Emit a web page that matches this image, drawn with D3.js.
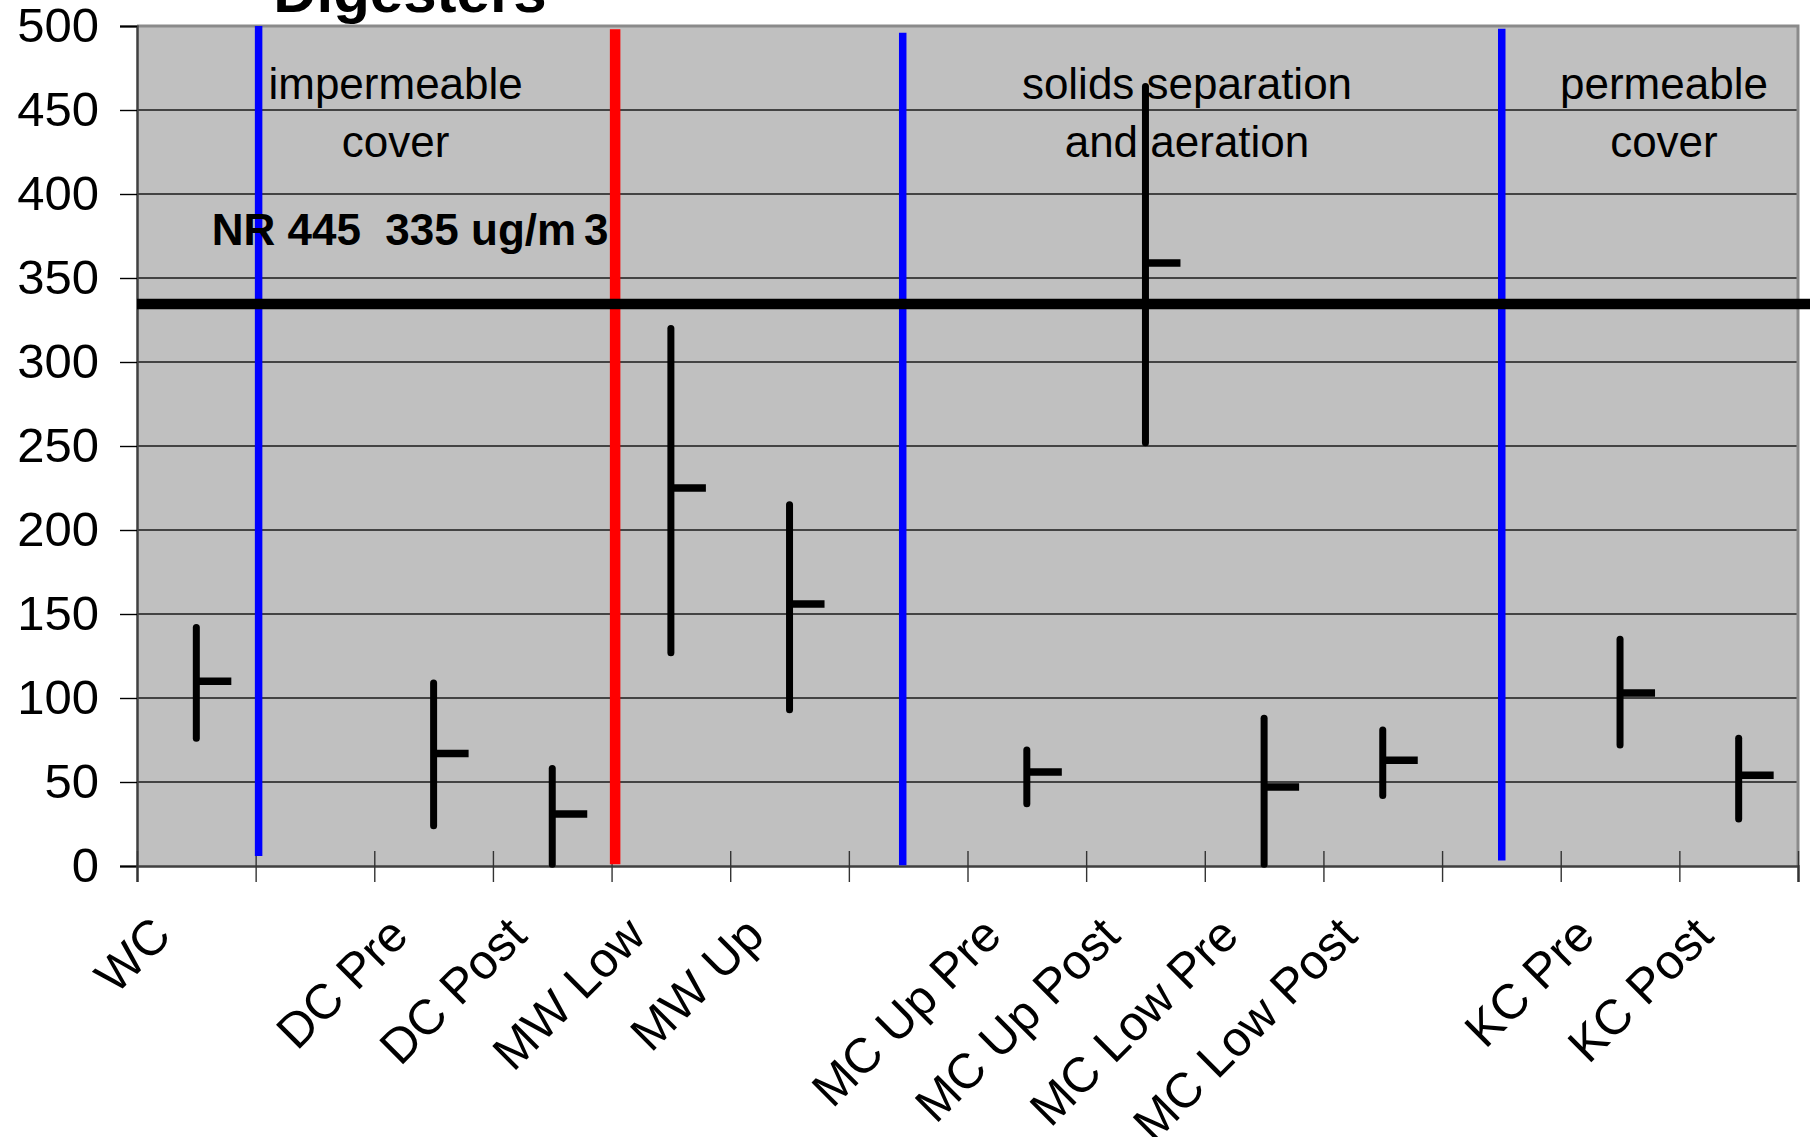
<!DOCTYPE html>
<html>
<head>
<meta charset="utf-8">
<script src="https://cdn.jsdelivr.net/npm/d3@7"></script>
<style>
  html, body { margin: 0; padding: 0; background: #ffffff; }
  svg { display: block; }
  text { font-family: "Liberation Sans", Arial, sans-serif; }
</style>
</head>
<body>
<svg id="chart" width="1810" height="1137"></svg>
<script>
// ---- data ----
const titleText = "Digesters";
const categories = ["WC", "", "DC Pre", "DC Post", "MW Low", "MW Up", "", "MC Up Pre", "MC Up Post", "MC Low Pre", "MC Low Post", "", "KC Pre", "KC Post"];
const highs = [142, null, 109, 58, 320, 215, null, 69, 464, 88, 81, null, 135, 76];
const lows  = [76,  null, 24,  1,  127, 93,  null, 37, 252, 1,  42, null, 72,  28];
const means = [110, null, 67,  31, 225, 156, null, 56, 359, 47, 63, null, 103, 54];
const yTicks = [0, 50, 100, 150, 200, 250, 300, 350, 400, 450, 500];
const thresholdValue = 334.5;
const thresholdLabel = ["NR 445  335 ug/m", "3"];
// separator lines: position in category units, value extent
const sepPos  = [1.025, 4.03, 6.454, 11.503];
const sepFrom = [6, 1, 0.5, 3.2];
const sepTo   = [500, 498, 496, 498.4];
const sepKind = ["blue", "red", "blue", "blue"];
// section notes
const noteLines = [["impermeable", "cover"], ["solids separation", "and aeration"], ["permeable", "cover"]];
const notePos = [2.18, 8.85, 12.87];

// ---- layout ----
const W = 1810, H = 1137;
const L = 137, R = 1798, T = 26, B = 866;
const svg = d3.select("#chart");
svg.append("rect").attr("width", W).attr("height", H).attr("fill", "#ffffff");

const n = categories.length;
const xLin = d3.scaleLinear().domain([0, n]).range([L, R]);
const xBand = d3.scaleBand().domain(d3.range(n)).range([L, R]);
const y = d3.scaleLinear().domain([0, 500]).range([B, T]);

// plot area
svg.append("rect").attr("x", L).attr("y", T).attr("width", R - L).attr("height", B - T)
  .attr("fill", "#C0C0C0");

// gridlines
svg.append("g").selectAll("line").data(yTicks.filter(v => v > 0)).join("line")
  .attr("x1", L).attr("x2", R)
  .attr("y1", d => y(d)).attr("y2", d => y(d))
  .attr("stroke", "#1a1a1a").attr("stroke-width", 1.4);

// plot border (top/right gray)
svg.append("path")
  .attr("d", `M${L},${T}H${R}V${B}`)
  .attr("fill", "none").attr("stroke", "#8a8a8a").attr("stroke-width", 3);

// y axis
const yAxis = svg.append("g").attr("transform", `translate(${L},0)`)
  .call(d3.axisLeft(y).tickValues(yTicks).tickSize(17).tickPadding(21).tickFormat(d3.format("d")));
yAxis.select(".domain").attr("stroke", "#404040").attr("stroke-width", 2.5);
yAxis.selectAll(".tick line").attr("stroke", "#000").attr("stroke-width", 1.4);
yAxis.selectAll(".tick text").attr("font-size", 49).attr("fill", "#000")
  .attr("font-family", "'Liberation Sans', Arial, sans-serif");

// x axis
const xAxis = svg.append("g").attr("transform", `translate(0,${B})`)
  .call(d3.axisBottom(xLin).tickValues(d3.range(n + 1)).tickSize(16).tickFormat(""));
xAxis.select(".domain").attr("stroke", "#404040").attr("stroke-width", 2.5);
xAxis.selectAll(".tick line").attr("y1", -15).attr("y2", 16).attr("stroke", "#333").attr("stroke-width", 1.4);

// category labels
svg.append("g").selectAll("text").data(categories.map((c, i) => ({ c, i })).filter(d => d.c !== ""))
  .join("text")
  .attr("transform", d => `translate(${xBand(d.i) + xBand.bandwidth() / 2 - 23},938) rotate(-45)`)
  .attr("text-anchor", "end")
  .attr("font-size", 49)
  .attr("fill", "#000")
  .text(d => d.c);

// separators
const sepColor = { blue: "#0000FF", red: "#FF0000" };
const sepWidth = { blue: 7.5, red: 10.5 };
svg.append("g").selectAll("line").data(sepPos.map((p, i) => i)).join("line")
  .attr("x1", i => xLin(sepPos[i])).attr("x2", i => xLin(sepPos[i]))
  .attr("y1", i => y(sepFrom[i])).attr("y2", i => y(sepTo[i]))
  .attr("stroke", i => sepColor[sepKind[i]])
  .attr("stroke-width", i => sepWidth[sepKind[i]]);

// threshold line
svg.append("line")
  .attr("x1", L).attr("x2", W)
  .attr("y1", y(thresholdValue)).attr("y2", y(thresholdValue))
  .attr("stroke", "#000").attr("stroke-width", 10.5);

// threshold label
const thr = svg.append("text")
  .attr("x", xLin(0.63)).attr("y", y(369.6))
  .attr("font-size", 44).attr("font-weight", "bold").attr("fill", "#000")
  .style("white-space", "pre");
thr.append("tspan").text(thresholdLabel[0]);
thr.append("tspan").attr("dx", 8).text(thresholdLabel[1]);

// section notes
const notes = svg.append("g");
noteLines.forEach((lines, k) => {
  lines.forEach((t, j) => {
    notes.append("text")
      .attr("x", xLin(notePos[k]))
      .attr("y", y(j === 0 ? 456.5 : 422))
      .attr("text-anchor", "middle")
      .attr("font-size", 44)
      .attr("fill", "#000")
      .style("white-space", "pre")
      .text(t);
  });
});

// range bars
const pts = d3.range(n).filter(i => highs[i] != null);
const bars = svg.append("g");
bars.selectAll("line.rng").data(pts).join("line").attr("class", "rng")
  .attr("x1", i => xBand(i) + xBand.bandwidth() / 2).attr("x2", i => xBand(i) + xBand.bandwidth() / 2)
  .attr("y1", i => y(highs[i])).attr("y2", i => y(lows[i]))
  .attr("stroke", "#000").attr("stroke-width", 7).attr("stroke-linecap", "round");
bars.selectAll("line.mean").data(pts).join("line").attr("class", "mean")
  .attr("x1", i => xBand(i) + xBand.bandwidth() / 2).attr("x2", i => xBand(i) + xBand.bandwidth() / 2 + 35)
  .attr("y1", i => y(means[i])).attr("y2", i => y(means[i]))
  .attr("stroke", "#000").attr("stroke-width", 7.5);

// title (cut at the top edge as in the source)
svg.append("text")
  .attr("x", xLin(2.3)).attr("y", 12)
  .attr("text-anchor", "middle")
  .attr("font-size", 60).attr("font-weight", "bold").attr("fill", "#000")
  .text(titleText);
</script>
</body>
</html>
